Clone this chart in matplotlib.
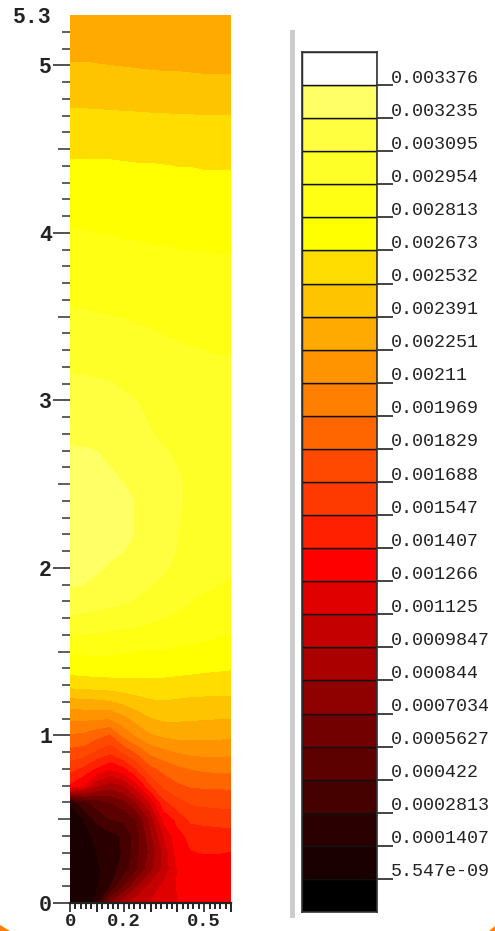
import numpy as np
import matplotlib
matplotlib.use("Agg")
import matplotlib.pyplot as plt
from matplotlib.patches import Polygon, Rectangle

W, H = 495, 931

# field, in units of 1e-3
X_GRID = [0, .05, .1, .15, .2, .25, .3, .35, .4, .45, .5, .55, .6]
Y_GRID = [0, .1, .2, .3, .4, .5, .6, .7, .8, .9, 1.0, 1.1, 1.2, 1.3, 1.4, 1.5, 1.6,
          1.8, 1.9, 2.0, 2.1, 2.2, 2.4, 2.5, 2.6, 2.7, 2.8, 3.0, 3.1, 3.2, 3.5, 3.8,
          4.0, 4.4, 4.7, 5.0, 5.3]
FIELD = [
    [.05, .05, .18, .70, .95, 1.08, 1.14, 1.20, 1.266, 1.30, 1.32, 1.33, 1.33],
    [.05, .06, .12, .28, .56, .82, 1.03, 1.16, 1.27, 1.31, 1.33, 1.34, 1.35],
    [.05, .06, .12, .20, .34, .56, .80, 1.03, 1.27, 1.33, 1.35, 1.37, 1.38],
    [.05, .07, .14, .20, .30, .52, .74, 1.03, 1.33, 1.40, 1.41, 1.41, 1.40],
    [.05, .08, .18, .22, .30, .50, .80, 1.125, 1.36, 1.44, 1.47, 1.48, 1.49],
    [.05, .14, .32, .42, .45, .58, .88, 1.30, 1.44, 1.58, 1.59, 1.60, 1.61],
    [.15, .38, .48, .56, .65, .85, 1.15, 1.50, 1.63, 1.70, 1.72, 1.73, 1.735],
    [1.38, 1.25, 1.0, .90, .98, 1.22, 1.52, 1.72, 1.80, 1.84, 1.85, 1.85, 1.855],
    [1.6, 1.5, 1.38, 1.28, 1.36, 1.55, 1.78, 1.87, 1.93, 1.97, 1.99, 2.0, 2.0],
    [1.78, 1.76, 1.65, 1.57, 1.7, 1.85, 2.0, 2.06, 2.11, 2.14, 2.15, 2.15, 2.15],
    [1.95, 1.93, 1.87, 1.8, 2.0, 2.13, 2.23, 2.27, 2.29, 2.29, 2.28, 2.28, 2.275],
    [2.13, 2.13, 2.12, 2.11, 2.2, 2.3, 2.38, 2.41, 2.41, 2.40, 2.40, 2.39, 2.39],
    [2.33, 2.34, 2.35, 2.37, 2.42, 2.47, 2.51, 2.52, 2.51, 2.50, 2.50, 2.50, 2.495],
    [2.57, 2.58, 2.59, 2.6, 2.61, 2.62, 2.62, 2.62, 2.61, 2.60, 2.59, 2.59, 2.59],
    [2.73, 2.74, 2.75, 2.75, 2.75, 2.74, 2.73, 2.73, 2.72, 2.71, 2.70, 2.69, 2.68],
    [2.83, 2.83, 2.83, 2.83, 2.82, 2.81, 2.80, 2.80, 2.79, 2.78, 2.77, 2.76, 2.75],
    [2.96, 2.95, 2.94, 2.93, 2.92, 2.91, 2.90, 2.89, 2.87, 2.85, 2.84, 2.82, 2.81],
    [3.19, 3.17, 3.15, 3.13, 3.11, 3.08, 3.05, 3.02, 2.99, 2.955, 2.93, 2.91, 2.90],
    [3.245, 3.235, 3.205, 3.18, 3.155, 3.13, 3.10, 3.07, 3.03, 3.0, 2.975, 2.955, 2.94],
    [3.28, 3.27, 3.25, 3.22, 3.19, 3.165, 3.14, 3.11, 3.07, 3.04, 3.01, 2.99, 2.97],
    [3.31, 3.30, 3.28, 3.255, 3.235, 3.2, 3.17, 3.13, 3.09, 3.06, 3.03, 3.0, 2.99],
    [3.33, 3.32, 3.30, 3.28, 3.25, 3.23, 3.19, 3.14, 3.095, 3.07, 3.04, 3.02, 3.01],
    [3.33, 3.32, 3.31, 3.28, 3.25, 3.23, 3.19, 3.15, 3.105, 3.08, 3.05, 3.04, 3.03],
    [3.31, 3.30, 3.285, 3.26, 3.235, 3.21, 3.18, 3.145, 3.105, 3.08, 3.055, 3.04, 3.03],
    [3.28, 3.27, 3.26, 3.235, 3.21, 3.19, 3.16, 3.13, 3.095, 3.08, 3.06, 3.04, 3.03],
    [3.245, 3.24, 3.235, 3.215, 3.19, 3.165, 3.135, 3.10, 3.08, 3.065, 3.045, 3.03, 3.02],
    [3.21, 3.21, 3.20, 3.19, 3.17, 3.14, 3.10, 3.075, 3.06, 3.05, 3.03, 3.02, 3.01],
    [3.15, 3.15, 3.14, 3.13, 3.11, 3.095, 3.07, 3.05, 3.03, 3.02, 3.01, 3.00, 2.99],
    [3.115, 3.115, 3.105, 3.1, 3.08, 3.065, 3.045, 3.03, 3.015, 3.005, 2.995, 2.985, 2.98],
    [3.08, 3.08, 3.07, 3.06, 3.05, 3.04, 3.02, 3.01, 3.00, 2.99, 2.98, 2.97, 2.97],
    [2.97, 2.97, 2.96, 2.955, 2.95, 2.94, 2.93, 2.92, 2.91, 2.90, 2.90, 2.90, 2.90],
    [2.87, 2.87, 2.87, 2.87, 2.86, 2.86, 2.85, 2.85, 2.84, 2.84, 2.84, 2.83, 2.83],
    [2.822, 2.82, 2.81, 2.81, 2.80, 2.80, 2.79, 2.79, 2.785, 2.78, 2.78, 2.78, 2.78],
    [2.69, 2.69, 2.69, 2.69, 2.685, 2.68, 2.68, 2.675, 2.67, 2.67, 2.665, 2.665, 2.665],
    [2.555, 2.553, 2.55, 2.548, 2.545, 2.543, 2.54, 2.538, 2.536, 2.534, 2.533, 2.532, 2.532],
    [2.40, 2.40, 2.395, 2.39, 2.385, 2.38, 2.375, 2.37, 2.37, 2.365, 2.36, 2.36, 2.36],
    [2.26, 2.26, 2.26, 2.26, 2.26, 2.26, 2.26, 2.26, 2.26, 2.26, 2.26, 2.26, 2.26],
]

CBAR_LABELS = ["5.547e-09", "0.0001407", "0.0002813", "0.000422", "0.0005627",
               "0.0007034", "0.000844", "0.0009847", "0.001125", "0.001266",
               "0.001407", "0.001547", "0.001688", "0.001829", "0.001969",
               "0.00211", "0.002251", "0.002391", "0.002532", "0.002673",
               "0.002813", "0.002954", "0.003095", "0.003235", "0.003376"]
BAND_COLORS = ["#000000", "#1a0000", "#2b0000", "#450000", "#5c0000", "#720000",
               "#8f0000", "#aa0000", "#c40000", "#e00000", "#ff0000", "#ff2000",
               "#ff3a00", "#ff4800", "#ff6600", "#ff7f00", "#ff9300", "#ffaa00",
               "#ffc400", "#ffdd00", "#ffff00", "#ffff14", "#ffff28", "#ffff40",
               "#ffff66", "#ffffff"]
Y_MAJOR = [0, 1, 2, 3, 4, 5, 5.3]
X_LABELS = {0: "0", .2: "0.2", .5: "0.5"}


def px_axes(fig, left, top, right, bottom):
    return fig.add_axes([left / W, 1 - bottom / H, (right - left) / W, (bottom - top) / H])


fig = plt.figure(figsize=(W / 100, H / 100), dpi=100)

# ── Contour panel ─────────────────────────────────────────────────────────
ax = px_axes(fig, 70, 15, 231, 903)
levels = [float(s) for s in CBAR_LABELS]
ax.contourf(X_GRID, Y_GRID, np.array(FIELD) * 1e-3, levels=levels,
            colors=BAND_COLORS, extend="both")
ax.set_xlim(0, .6)
ax.set_ylim(0, 5.3)
for side in ("top", "right", "left"):
    ax.spines[side].set_visible(False)
ax.spines["bottom"].set_linewidth(1.6)
ax.spines["bottom"].set_color("#222222")

label_font = dict(family="Liberation Mono", fontweight="bold", fontsize=15.5, color="#222222")

ax.set_yticks(Y_MAJOR, [str(v) for v in Y_MAJOR], **label_font)
ax.tick_params(axis="y", which="major", length=12, width=1.1, color="#222222", pad=1)
ax.yaxis.get_major_ticks()[-1].tick1line.set_visible(False)
y_minor = np.arange(1, 53) / 10
ax.set_yticks([v for v in y_minor if v % 1], minor=True)
ax.tick_params(axis="y", which="minor", length=5.8, width=1.1, color="#333333")
for tick, v in zip(ax.yaxis.get_minor_ticks(), ax.get_yticks(minor=True)):
    if abs(v % 1 - .5) < .01:
        tick.tick1line.set_markersize(8.6)

# x labels sit on their baseline so they stay inside the canvas
ax.set_xticks(list(X_LABELS), list(X_LABELS.values()),
              **{**label_font, "fontsize": 13.5}, va="baseline")
ax.tick_params(axis="x", which="major", length=6.5, width=1.2, color="#222222", pad=10.4)
ax.set_xticks(np.arange(0, 31) / 50, minor=True)
ax.tick_params(axis="x", which="minor", length=4.5, width=1.4, color="#222222")
for tick, v in zip(ax.xaxis.get_minor_ticks(), ax.get_xticks(minor=True)):
    if round(v * 50) % 5 == 0:
        tick.tick1line.set_markersize(6.5)

# ── Legend column ─────────────────────────────────────────────────────────
cax = px_axes(fig, 302, 52, 377, 912)
positions = np.arange(len(BAND_COLORS))
cax.barh(positions, 1, height=1, left=0, align="edge", color=BAND_COLORS,
         edgecolor="#111111", linewidth=1.0)
cax.set_xlim(0, 1)
cax.set_ylim(0, len(BAND_COLORS))
cax.set_xticks([])
cax.yaxis.tick_right()
cax.set_yticks(positions[1:], [""] * len(CBAR_LABELS))
cax.tick_params(axis="y", length=11.5, width=1.1, color="#111111")
for spine in cax.spines.values():
    spine.set_linewidth(1.2)
    spine.set_color("#333333")
for pos, label in zip(positions[1:], CBAR_LABELS):
    cax.annotate(label, xy=(1, pos), xycoords=("axes fraction", "data"),
                 xytext=(10, 5), textcoords="offset points", va="center",
                 family="Liberation Mono", fontsize=13.2, color="#222222")

# grey divider and the orange scraps in the bottom corners
fig.add_artist(Rectangle((290 / W, 1 - 918 / H), 5 / W, 888 / H,
                         transform=fig.transFigure, color="#cccccc", lw=0))
fig.add_artist(Polygon([(0, 1 - 925 / H), (10 / W, 0), (0, 0)],
                       transform=fig.transFigure, color="#ff7f00", lw=0))
fig.add_artist(Polygon([(1, 1 - 926 / H), (1, 0), (489 / W, 0)],
                       transform=fig.transFigure, color="#ff7f00", lw=0))

fig.savefig("out.png", dpi=100)
